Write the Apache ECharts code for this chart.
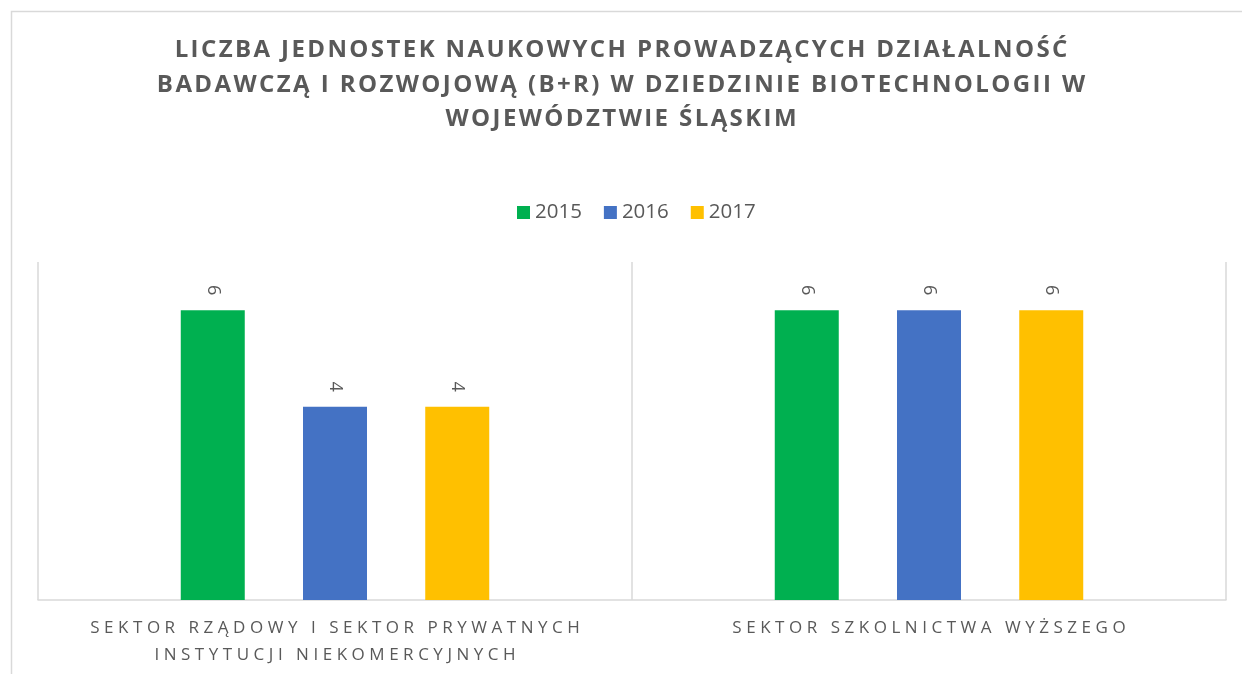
<!DOCTYPE html>
<html>
<head>
<meta charset="utf-8">
<script src="https://cdn.jsdelivr.net/npm/echarts@6/dist/echarts.min.js"></script>
<style>
  html, body { margin: 0; padding: 0; background: #fff; }
  #chart { width: 1242px; height: 674px; }
</style>
</head>
<body>
<div id="chart"></div>
<script>
// dane
const titleLines = [
  'LICZBA JEDNOSTEK NAUKOWYCH PROWADZĄCYCH DZIAŁALNOŚĆ',
  'BADAWCZĄ I ROZWOJOWĄ (B+R) W DZIEDZINIE BIOTECHNOLOGII W',
  'WOJEWÓDZTWIE ŚLĄSKIM'
]
const categories = [
  'SEKTOR RZĄDOWY I SEKTOR PRYWATNYCH\nINSTYTUCJI NIEKOMERCYJNYCH',
  'SEKTOR SZKOLNICTWA WYŻSZEGO'
]
const years = ['2015', '2016', '2017']
const values2015 = [6, 6]
const values2016 = [4, 6]
const values2017 = [4, 6]
const colors = ['#00B050', '#4472C4', '#FFC000']

// rozstrzelony tekst (jak w Excelu)
const spaced = (s, sp) => s.split('\n').map(l => l.split('').join(sp)).join('\n')

const mChart = echarts.init(document.getElementById('chart'))

const barSeries = [values2015, values2016, values2017].map((vals, i) => ({
  name: years[i],
  type: 'bar',
  data: vals,
  barWidth: 64,
  barGap: '91%',
  itemStyle: { color: colors[i] },
  label: {
    show: true,
    position: 'top',
    distance: 15,
    rotate: -90,
    align: 'right',
    verticalAlign: 'middle',
    color: '#595959',
    fontFamily: 'Open Sans',
    fontSize: 18
  }
}))

const options = {
  backgroundColor: '#fff',
  title: {
    text: spaced(titleLines.join('\n'), '\u200A'),
    left: 'center',
    top: 28,
    textStyle: {
      fontFamily: 'Open Sans',
      fontWeight: 'bold',
      fontSize: 24,
      lineHeight: 34.5,
      color: '#595959'
    }
  },
  legend: {
    data: years,
    top: 197,
    left: 512,
    icon: 'rect',
    itemWidth: 13,
    itemHeight: 13,
    itemGap: 22,
    textStyle: {
      fontFamily: 'Open Sans',
      fontSize: 20.5,
      color: '#595959'
    }
  },
  grid: {
    left: 38,
    right: 16,
    top: 262,
    bottom: 74
  },
  xAxis: {
    type: 'category',
    data: categories.map(c => spaced(c, '\u2009\u200A')),
    axisLine: { lineStyle: { color: '#d9d9d9', width: 1.5 } },
    axisTick: { show: false },
    splitLine: { show: true, interval: 0, lineStyle: { color: '#d9d9d9', width: 1.5 } },
    axisLabel: {
      interval: 0,
      margin: 15,
      fontFamily: 'Open Sans',
      fontSize: 17,
      lineHeight: 27,
      color: '#595959'
    }
  },
  yAxis: {
    type: 'value',
    min: 0,
    max: 7,
    show: false,
    splitLine: { show: false }
  },
  graphic: [{
    type: 'rect',
    left: 9,
    top: 9,
    shape: { width: 1300, height: 700 },
    style: { fill: 'none', stroke: '#d9d9d9', lineWidth: 1.5 },
    silent: true
  }],
  series: barSeries
}

mChart.setOption(options)
</script>
</body>
</html>
